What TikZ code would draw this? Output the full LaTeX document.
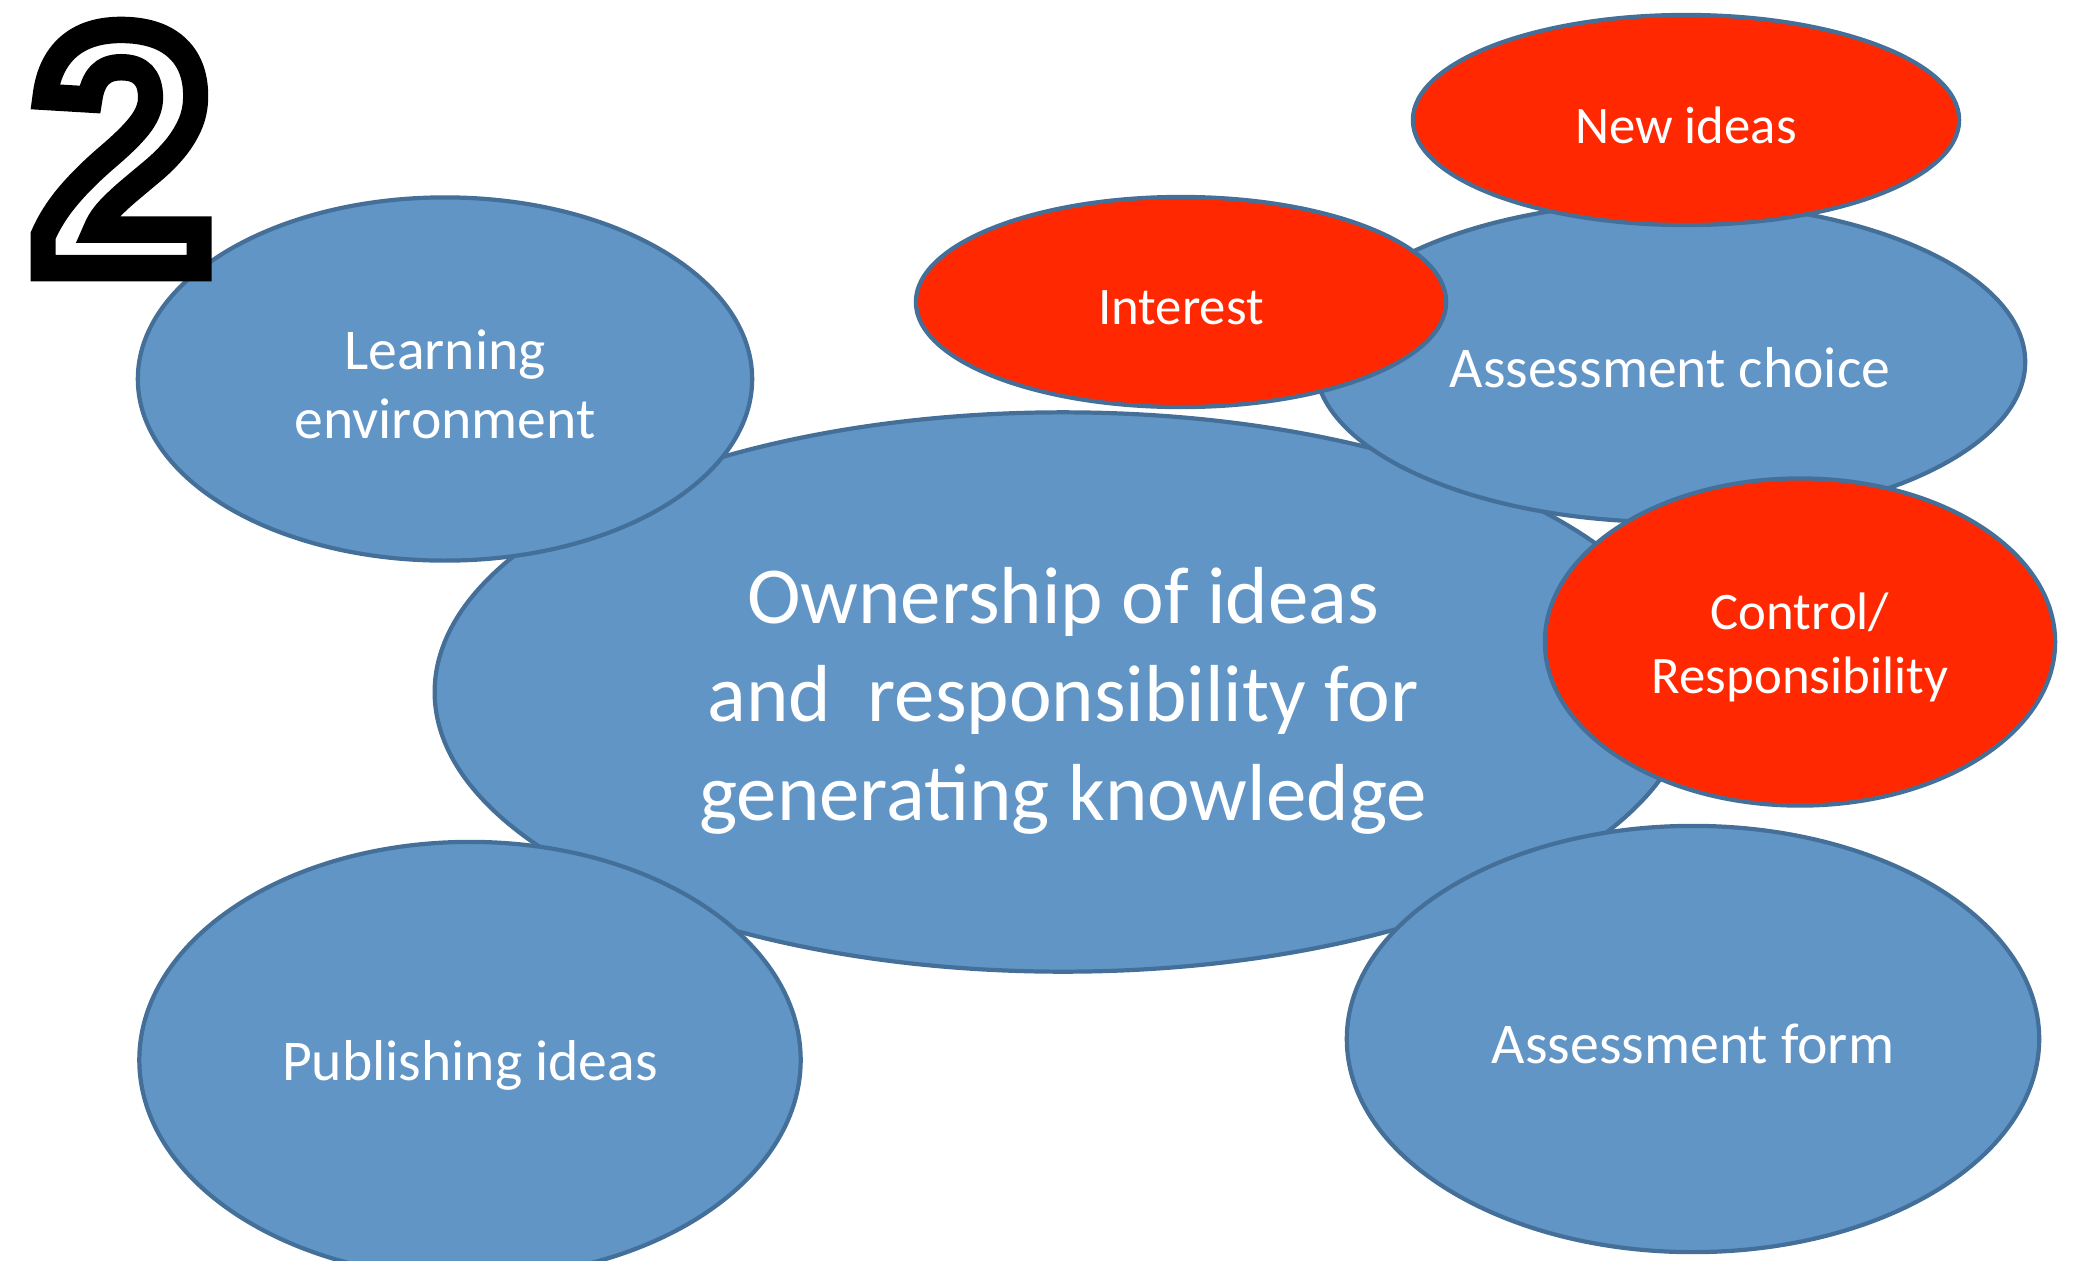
\documentclass[tikz,border=0pt]{standalone}
\usepackage{fontspec}
\setmainfont{Carlito}
\newfontfamily\digitfont{Liberation Sans}
\usetikzlibrary{shapes.geometric}
\definecolor{bfill}{RGB}{97,149,198}
\definecolor{bline}{RGB}{68,111,153}
\definecolor{rfill}{RGB}{255,40,0}
\newcommand\labfont{\fontsize{16.4}{19.7}\selectfont}
\newcommand\redlabfont{\fontsize{15}{18.1}\selectfont}
\newcommand\mainlabfont{\fontsize{23}{28}\selectfont}
\begin{document}
\begin{tikzpicture}[x=0.01cm,y=-0.01cm,
  bub/.style={ellipse, draw=bline, line width=1.2pt, fill=bfill, inner sep=0pt},
  redbub/.style={bub, fill=rfill},
  lbl/.style={text=white, inner sep=0pt, align=center}]
\useasboundingbox (0,0) rectangle (2084,1260);
\node[bub, minimum width=12.56cm, minimum height=5.59cm] (own) at (1063,692) {};
\node[lbl, font=\mainlabfont] (owntext) at ([yshift=-2.5pt]own.center)
  {Ownership of ideas\\and\ \ responsibility for\\generating knowledge};
\node[bub, minimum width=6.14cm, minimum height=3.63cm] (learn) at (445,379) {};
\node[lbl, font=\labfont] (learntext) at ([yshift=-1.5pt]learn.center) {Learning\\environment};
\node[bub, minimum width=6.61cm, minimum height=4.36cm] (pub) at (470,1060) {};
\node[lbl, font=\labfont] (pubtext) at ([yshift=-1.5pt]pub.center) {Publishing ideas};
\node[bub, minimum width=6.92cm, minimum height=4.26cm] (aform) at (1693,1039) {};
\node[lbl, font=\labfont] (aformtext) at ([yshift=-1.5pt]aform.center) {Assessment form};
\node[bub, minimum width=7.10cm, minimum height=3.20cm] (achoice) at (1670,362) {};
\node[lbl, font=\labfont] (achoicetext) at ([yshift=-1.5pt]achoice.center) {Assessment choice};
\node[redbub, minimum width=5.10cm, minimum height=3.27cm] (control) at (1800,642) {};
\node[lbl, font=\redlabfont] (controltext) at ([yshift=-1.5pt]control.center) {Control/\\Responsibility};
\node[redbub, minimum width=5.30cm, minimum height=2.10cm] (interest) at (1181,302) {};
\node[lbl, font=\redlabfont] (interesttext) at ([yshift=-1.5pt]interest.center) {Interest};
\node[redbub, minimum width=5.46cm, minimum height=2.10cm] (newid) at (1686,120) {};
\node[lbl, font=\redlabfont] (newidtext) at ([yshift=-1.5pt]newid.center) {New ideas};
\node[inner sep=0pt, text=white, font=\digitfont\bfseries\fontsize{97}{97}\selectfont, xscale=0.95] (two) at (122,149)
  {\special{pdf:code 0 0 0 RG 2 Tr 7.5 w}2\special{pdf:code 0 Tr 1 w}};
\end{tikzpicture}
\end{document}
